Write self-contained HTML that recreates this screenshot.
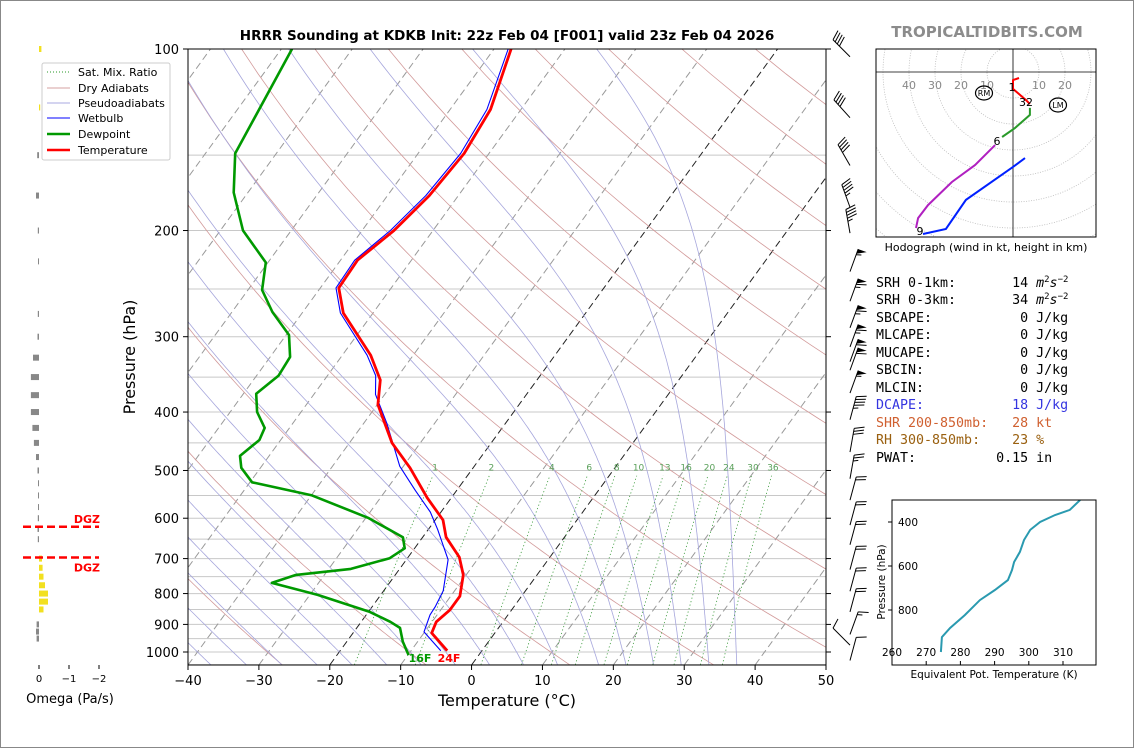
<!DOCTYPE html>
<html><head><meta charset="utf-8"><style>
body{margin:0;background:#fff}
svg{display:block;font-family:"DejaVu Sans","Liberation Sans",sans-serif}
.mono{font-family:"DejaVu Sans Mono","Liberation Mono",monospace;font-size:13.3px}
</style></head><body>
<svg id="svg" width="1134" height="748" viewBox="0 0 1134 748" xmlns="http://www.w3.org/2000/svg">
<rect x="0.5" y="0.5" width="1133" height="747" fill="#fff" stroke="#888"/>
<defs>
<clipPath id="mainclip"><rect x="188" y="49" width="638" height="616"/></clipPath>
<clipPath id="hodoclip"><rect x="876" y="49" width="220" height="188"/></clipPath>
<clipPath id="thclip"><rect x="892" y="500" width="204" height="165"/></clipPath>
</defs>
<text x="507" y="40" text-anchor="middle" font-weight="bold" font-size="13.5">HRRR Sounding at KDKB Init: 22z Feb 04 [F001] valid 23z Feb 04 2026</text>
<text x="987" y="37" text-anchor="middle" font-weight="bold" font-size="15" fill="#8c8c8c">TROPICALTIDBITS.COM</text>
<g id="bg" clip-path="url(#mainclip)"></g>
<g id="prof" clip-path="url(#mainclip)"></g>
<g id="axes"></g>
<g id="barbs"></g>
<g id="omega"></g>
<g id="hodo"></g>
<g id="theta"></g>
<g>
<rect x="42" y="63" width="128" height="97" fill="#fff" stroke="#ccc" rx="2"/>
<g font-size="11">
<line x1="47" y1="72" x2="70" y2="72" stroke="#2a9a2a" stroke-dasharray="1,2"/><text x="78" y="76">Sat. Mix. Ratio</text>
<line x1="47" y1="88" x2="70" y2="88" stroke="#d4a0a0"/><text x="78" y="92">Dry Adiabats</text>
<line x1="47" y1="103" x2="70" y2="103" stroke="#a8a8e0"/><text x="78" y="107">Pseudoadiabats</text>
<line x1="47" y1="118" x2="70" y2="118" stroke="#00f"/><text x="78" y="122">Wetbulb</text>
<line x1="47" y1="134" x2="70" y2="134" stroke="#090" stroke-width="2.5"/><text x="78" y="138">Dewpoint</text>
<line x1="47" y1="150" x2="70" y2="150" stroke="#f00" stroke-width="2.5"/><text x="78" y="154">Temperature</text>
</g></g>
<g class="mono">
<text x="876" y="287" xml:space="preserve">SRH 0-1km:       14 <tspan font-style="italic">m</tspan><tspan font-size="9" dy="-5">2</tspan><tspan font-style="italic" dy="5">s</tspan><tspan font-size="9" dy="-5">−2</tspan></text>
<text x="876" y="304" xml:space="preserve">SRH 0-3km:       34 <tspan font-style="italic">m</tspan><tspan font-size="9" dy="-5">2</tspan><tspan font-style="italic" dy="5">s</tspan><tspan font-size="9" dy="-5">−2</tspan></text>
<text x="876" y="322" xml:space="preserve">SBCAPE:           0 J/kg</text>
<text x="876" y="339" xml:space="preserve">MLCAPE:           0 J/kg</text>
<text x="876" y="357" xml:space="preserve">MUCAPE:           0 J/kg</text>
<text x="876" y="374" xml:space="preserve">SBCIN:            0 J/kg</text>
<text x="876" y="392" xml:space="preserve">MLCIN:            0 J/kg</text>
<text x="876" y="409" fill="#3535e0" xml:space="preserve">DCAPE:           18 J/kg</text>
<text x="876" y="427" fill="#d06030" xml:space="preserve">SHR 200-850mb:   28 kt</text>
<text x="876" y="444" fill="#9a6010" xml:space="preserve">RH 300-850mb:    23 %</text>
<text x="876" y="462" xml:space="preserve">PWAT:          0.15 in</text>
</g>
<script>
// ---- data ----
const tempP=[995,930,891,852,808,745,696,645,604,555,495,450,389,354,322,274,249,224,200,175,149,126,100];
const tempC=[-4.9,-8.9,-9.4,-8.7,-8.7,-10.4,-12.8,-16.7,-18.9,-23.4,-28.9,-34,-39.9,-42.1,-46,-54.2,-57.4,-57.6,-55.5,-54.1,-53.5,-54.3,-57.6];
const dewP=[1012,961,912,891,858,804,768,745,728,699,673,645,599,550,523,495,473,445,425,400,373,348,324,298,273,251,226,200,173,149,100];
const dewC=[-9.9,-12.1,-13.9,-15.9,-19.8,-28.9,-36.6,-34,-26.9,-22.5,-21.4,-22.8,-29.7,-39.9,-49.7,-52.7,-54.1,-53,-53.5,-56.2,-58.2,-56.9,-57.2,-59.6,-64.3,-68,-70.3,-76.8,-82,-85.8,-88.5];
const wbP=[995,926,868,840,792,703,626,586,540,492,417,374,348,322,274,249,224,200,175,149,126,100];
const wbC=[-5.8,-10.1,-11,-11.1,-11.6,-14.1,-18.7,-21.5,-25.8,-30.5,-36.8,-41.3,-43.2,-46.5,-54.6,-57.8,-58,-56,-54.6,-54,-54.8,-58];
const xTicks=[-40,-30,-20,-10,0,10,20,30,40,50];
const pTicks=[100,200,300,400,500,600,700,800,900,1000];
const mixRatios=[1,2,4,6,8,10,13,16,20,24,30,36];
const barbP=[103,130,156,183,202,234,262,290,312,330,341,372,412,466,516,560,616,664,730,793,858,935,974,1033];
const barbDir=[315,318,330,340,350,20,20,20,20,20,20,20,15,10,10,15,15,15,15,15,15,20,315,15];
const barbSpd=[40,40,40,45,45,55,65,65,65,60,60,55,45,30,25,20,20,20,20,20,20,15,10,10];
const omegaP=[100,125,150,175,200,225,275,300,325,350,375,400,425,450,475,500,525,550,575,600,625,650,700,725,750,775,800,825,850,900,925,950];
const omegaV=[-0.08,-0.04,0.06,0.1,0.04,0.02,0.04,0.05,0.2,0.27,0.27,0.27,0.22,0.17,0.1,0.05,0.03,0.03,0.03,0.04,0.05,0.04,-0.1,-0.12,-0.15,-0.2,-0.3,-0.3,-0.15,0.08,0.1,0.08];
const dgzP=[620,697];
const hodoU=[2.3,0,0,2.7,5,6.5];
const hodoV=[-2.3,-3.1,-6.5,-8.8,-10.8,-12.3];
const hodoU2=[6.5,6.5,0.8,-4.2];
const hodoV2=[-13.8,-16.5,-21.5,-25];
const hodoU3=[-6.9,-14.6,-23.5,-32.7,-36.5,-37.3];
const hodoV3=[-28.1,-35.8,-42.3,-51.2,-56.2,-60];
const hodoU4=[-34.6,-25.8,-18.1,0,4.6];
const hodoV4=[-62.3,-60.4,-49.2,-36.5,-33.1];
const thetaP=[991,923,882,823,755,709,664,618,582,536,482,436,400,368,345,300];
const thetaK=[274.3,274.6,277,281.3,285.7,290.1,293.9,295.1,295.7,297.4,298.6,300.4,303.3,307.7,312,315];
const thetaTicks=[260,270,280,290,300,310];
const thetaPTicks=[400,600,800];

// ---- scales ----
const NS='http://www.w3.org/2000/svg';
const Y0=665,XL=188,XR=826,PXC=(XR-XL)/90,SK=0.727;
function yP(p){return 49+603*Math.log10(p/100);}
function xT(t,p){return XL+(t+40)*PXC+SK*(Y0-yP(p));}
function mk(tag,attrs,parent){const e=document.createElementNS(NS,tag);for(const k in attrs)e.setAttribute(k,attrs[k]);parent.appendChild(e);return e;}
function pathD(pts){return pts.map((q,i)=>(i?'L':'M')+q[0].toFixed(1)+','+q[1].toFixed(1)).join('');}
const bg=document.getElementById('bg'),prof=document.getElementById('prof'),axes=document.getElementById('axes');

for(let p=100;p<=1050;p+=50){const l=mk('line',{x1:XL,x2:XR,y1:yP(p),y2:yP(p),stroke:'#c8c8c8','stroke-width':1},bg);

}
for(let t=-130;t<=50;t+=10){const l=mk('line',{x1:xT(t,1050),y1:yP(1050),x2:xT(t,100),y2:yP(100),stroke:(t==0||t==-20)?'#222':'#999','stroke-width':1,'stroke-dasharray':'7,4'},bg);

}
for(let th=243;th<=500;th+=20){const pts=[];for(let p=1050;p>=100;p-=10){pts.push([xT(th*Math.pow(p/1000,0.286)-273.15,p),yP(p)]);}
const e=mk('path',{d:pathD(pts),fill:'none',stroke:'#d29a9a','stroke-width':0.8},bg);

}
function es(t){return 6.112*Math.exp(17.67*t/(t+243.5));}
function moistRate(T,p){const Tk=T+273.15,e=es(T),rs=0.622*e/(p-e),Lv=2.5e6,Rd=287,Cp=1005;return (1/p)*(Rd*Tk+Lv*rs)/(Cp+Lv*Lv*rs*0.622/(Rd*Tk*Tk));}
[-45,-40,-35,-30,-25,-20,-15,-10,-5,0,5,10,16,20,24,28,32,36].forEach(t0=>{let pts=[];
 let Td=t0;for(let p=1000;p<1050;p+=5){Td+=moistRate(Td,p)*5;}
 let T=Td;for(let p=1050;p>=100;p-=5){pts.push([xT(T,p),yP(p)]);T-=moistRate(T,p)*5;}
 const e=mk('path',{d:pathD(pts),fill:'none',stroke:'#a6a6dc','stroke-width':0.8},bg);
 
 });
function tdW(w,p){const e=w*p/(622+w),l=Math.log(e/6.112);return 243.5*l/(17.67-l);}
mixRatios.forEach(w=>{const pts=[];for(let p=1050;p>=505;p-=15)pts.push([xT(tdW(w,p),p),yP(p)]);
 const e=mk('path',{d:pathD(pts),fill:'none',stroke:'#3a9a3a','stroke-width':0.8,'stroke-dasharray':'1.2,2.4'},bg);
 
 
 const t=mk('text',{x:xT(tdW(w,500),500),y:yP(500),'text-anchor':'middle','font-size':9,fill:'#5aa05a'},bg);t.textContent=w;
 
 });
function prof_line(P,T,col,w,name){const e=mk('path',{d:pathD(P.map((p,i)=>[xT(T[i],p),yP(p)])),fill:'none',stroke:col,'stroke-width':w,'stroke-linejoin':'round'},prof);
 
 }
prof_line(wbP,wbC,'#00f',1.1,'wetbulb-line');
prof_line(dewP,dewC,'#090',2.6,'dewpoint-line');
prof_line(tempP,tempC,'#f00',2.8,'temperature-line');
{const t=mk('text',{x:420,y:662,'text-anchor':'middle','font-size':11,'font-weight':'bold',fill:'#090'},axes);t.textContent='16F';


const t2=mk('text',{x:449,y:662,'text-anchor':'middle','font-size':11,'font-weight':'bold',fill:'#f00'},axes);t2.textContent='24F';

}
{const r=mk('rect',{x:XL,y:49,width:XR-XL,height:Y0-49,fill:'none',stroke:'#000','stroke-width':1},axes);

}
xTicks.forEach(t=>{const x=XL+(t+40)*PXC;mk('line',{x1:x,x2:x,y1:Y0,y2:Y0+5,stroke:'#000'},axes);
 const tx=mk('text',{x:x,y:Y0+20,'text-anchor':'middle','font-size':13},axes);tx.textContent=t<0?'−'+(-t):t;
 
 });
pTicks.forEach(p=>{const y=yP(p);mk('line',{x1:XL-5,x2:XL,y1:y,y2:y,stroke:'#000'},axes);mk('line',{x1:XR,x2:XR+5,y1:y,y2:y,stroke:'#000'},axes);
 const tx=mk('text',{x:XL-9,y:y+5,'text-anchor':'end','font-size':13},axes);tx.textContent=p;
 
 });
{const t=mk('text',{x:507,y:706,'text-anchor':'middle','font-size':16},axes);t.textContent='Temperature (°C)';


const t2=mk('text',{x:135,y:357,'text-anchor':'middle','font-size':16,transform:'rotate(-90 135 357)'},axes);t2.textContent='Pressure (hPa)';

}
const bgG=document.getElementById('barbs');
barbP.forEach((p,i)=>{const bx=850,by=yP(p),d=barbDir[i]*Math.PI/180,L=24;
 const ux=Math.sin(d),uy=-Math.cos(d);const px=-uy,py=ux;
 const g=mk('g',{stroke:'#000','stroke-width':1,fill:'#000'},bgG);
 
 
 const tx=bx+ux*L,ty=by+uy*L;mk('line',{x1:bx,y1:by,x2:tx,y2:ty},g);
 let s=Math.round(barbSpd[i]/5)*5,pos=0;
 while(s>=50){const a=[tx-ux*pos,ty-uy*pos],b=[tx-ux*(pos+5),ty-uy*(pos+5)],c=[a[0]+px*9,a[1]+py*9];
  mk('polygon',{points:[a,b,c].map(q=>q.join(',')).join(' '),stroke:'none'},g);pos+=6;s-=50;}
 while(s>=10){const a=[tx-ux*pos,ty-uy*pos];mk('line',{x1:a[0],y1:a[1],x2:a[0]+px*10+ux*3,y2:a[1]+py*10+uy*3},g);pos+=3;s-=10;}
 if(s>=5){if(pos==0)pos=3;const a=[tx-ux*pos,ty-uy*pos];mk('line',{x1:a[0],y1:a[1],x2:a[0]+px*5+ux*1.5,y2:a[1]+py*5+uy*1.5},g);}
});
const om=document.getElementById('omega');const OX=39,OS=30;
omegaP.forEach((p,i)=>{const v=omegaV[i],y=yP(p),w=Math.max(Math.abs(v)*OS,1);const x=v>0?OX-w:OX;
 const r=mk('rect',{x:x,y:y-3,width:w,height:6,fill:(v<0)?'#f2e020':'#888'},om);
 
 });
[0,-1,-2].forEach(v=>{const x=OX-v*OS;mk('line',{x1:x,x2:x,y1:665,y2:669,stroke:'#000'},om);
 const t=mk('text',{x:x,y:682,'text-anchor':'middle','font-size':10},om);t.textContent=v<0?'−'+(-v):v;
 
 });
{const t=mk('text',{x:70,y:703,'text-anchor':'middle','font-size':13},om);t.textContent='Omega (Pa/s)';

}
dgzP.forEach((p,i)=>{const y=yP(p);const l=mk('line',{x1:23,x2:99,y1:y,y2:y,stroke:'#f00','stroke-width':2.5,'stroke-dasharray':'8,4'},om);
 
 
 const t=mk('text',{x:100,y:i==0?y-4:y+14,'text-anchor':'end','font-size':11,'font-weight':'bold',fill:'#f00'},om);t.textContent='DGZ';
 
 });
const hd=document.getElementById('hodo');const HX=1013,HY=72,HS=2.6;
const hc=mk('g',{'clip-path':'url(#hodoclip)'},hd);
for(let k=10;k<=90;k+=10){mk('circle',{cx:HX,cy:HY,r:k*HS,fill:'none',stroke:'#bbb','stroke-dasharray':'1,1.5','stroke-width':0.8},hc);}
mk('line',{x1:876,x2:1096,y1:HY,y2:HY,stroke:'#000','stroke-width':0.8},hc);mk('line',{x1:HX,x2:HX,y1:49,y2:237,stroke:'#000','stroke-width':0.8},hc);
[40,30,20,10].forEach(k=>{const t=mk('text',{x:HX-k*HS,y:HY+17,'text-anchor':'middle','font-size':11,fill:'#888'},hd);t.textContent=k;

});
[10,20].forEach(k=>{const t=mk('text',{x:HX+k*HS,y:HY+17,'text-anchor':'middle','font-size':11,fill:'#888'},hd);t.textContent=k;

});
function hline(U,V,col,name){const e=mk('path',{d:pathD(U.map((u,i)=>[HX+u*HS,HY-V[i]*HS])),fill:'none',stroke:col,'stroke-width':2},hc);

}
hline(hodoU,hodoV,'#f00','hodo-0-3km');hline(hodoU2,hodoV2,'#2a9a2a','hodo-3-6km');hline(hodoU3,hodoV3,'#b020c0','hodo-6-9km');hline(hodoU4,hodoV4,'#0020ff','hodo-9-12km');
[['1',1012,91],['32',1026,106],['6',997,145],['9',920,235]].forEach(a=>{const t=mk('text',{x:a[1],y:a[2],'text-anchor':'middle','font-size':11},hd);t.textContent=a[0];

});
[['RM',984,93],['LM',1058,105]].forEach(a=>{mk('ellipse',{cx:a[1],cy:a[2],rx:8.5,ry:7,fill:'none',stroke:'#000','stroke-width':1.2},hd);
const t=mk('text',{x:a[1],y:a[2]+3,'text-anchor':'middle','font-size':8},hd);t.textContent=a[0];

});
mk('rect',{x:876,y:49,width:220,height:188,fill:'none',stroke:'#000','stroke-width':1},hd);
{const t=mk('text',{x:986,y:251,'text-anchor':'middle','font-size':11},hd);t.textContent='Hodograph (wind in kt, height in km)';

}
const th=document.getElementById('theta');
function tx_(k){return 892+(k-260)*3.42;} function ty_(p){return 500+(p-300)*0.22;}
const tc=mk('g',{'clip-path':'url(#thclip)'},th);
{const e=mk('path',{d:pathD(thetaP.map((p,i)=>[tx_(thetaK[i]),ty_(p)])),fill:'none',stroke:'#2a9ab0','stroke-width':2},tc);

}
mk('rect',{x:892,y:500,width:204,height:165,fill:'none',stroke:'#000','stroke-width':1},th);
thetaTicks.forEach(k=>{const x=tx_(k);mk('line',{x1:x,x2:x,y1:665,y2:661,stroke:'#000'},th);
const t=mk('text',{x:x,y:656,'text-anchor':'middle','font-size':10.5},th);t.textContent=k;

});
thetaPTicks.forEach(p=>{const y=ty_(p);mk('line',{x1:888,x2:892,y1:y,y2:y,stroke:'#000'},th);
const t=mk('text',{x:918,y:y+4,'text-anchor':'end','font-size':10.5},th);t.textContent=p;

});
{const t=mk('text',{x:994,y:678,'text-anchor':'middle','font-size':10.5},th);t.textContent='Equivalent Pot. Temperature (K)';


const t2=mk('text',{x:885,y:582,'text-anchor':'middle','font-size':10.5,transform:'rotate(-90 885 582)'},th);t2.textContent='Pressure (hPa)';

}
</script>
</svg>
</body></html>
